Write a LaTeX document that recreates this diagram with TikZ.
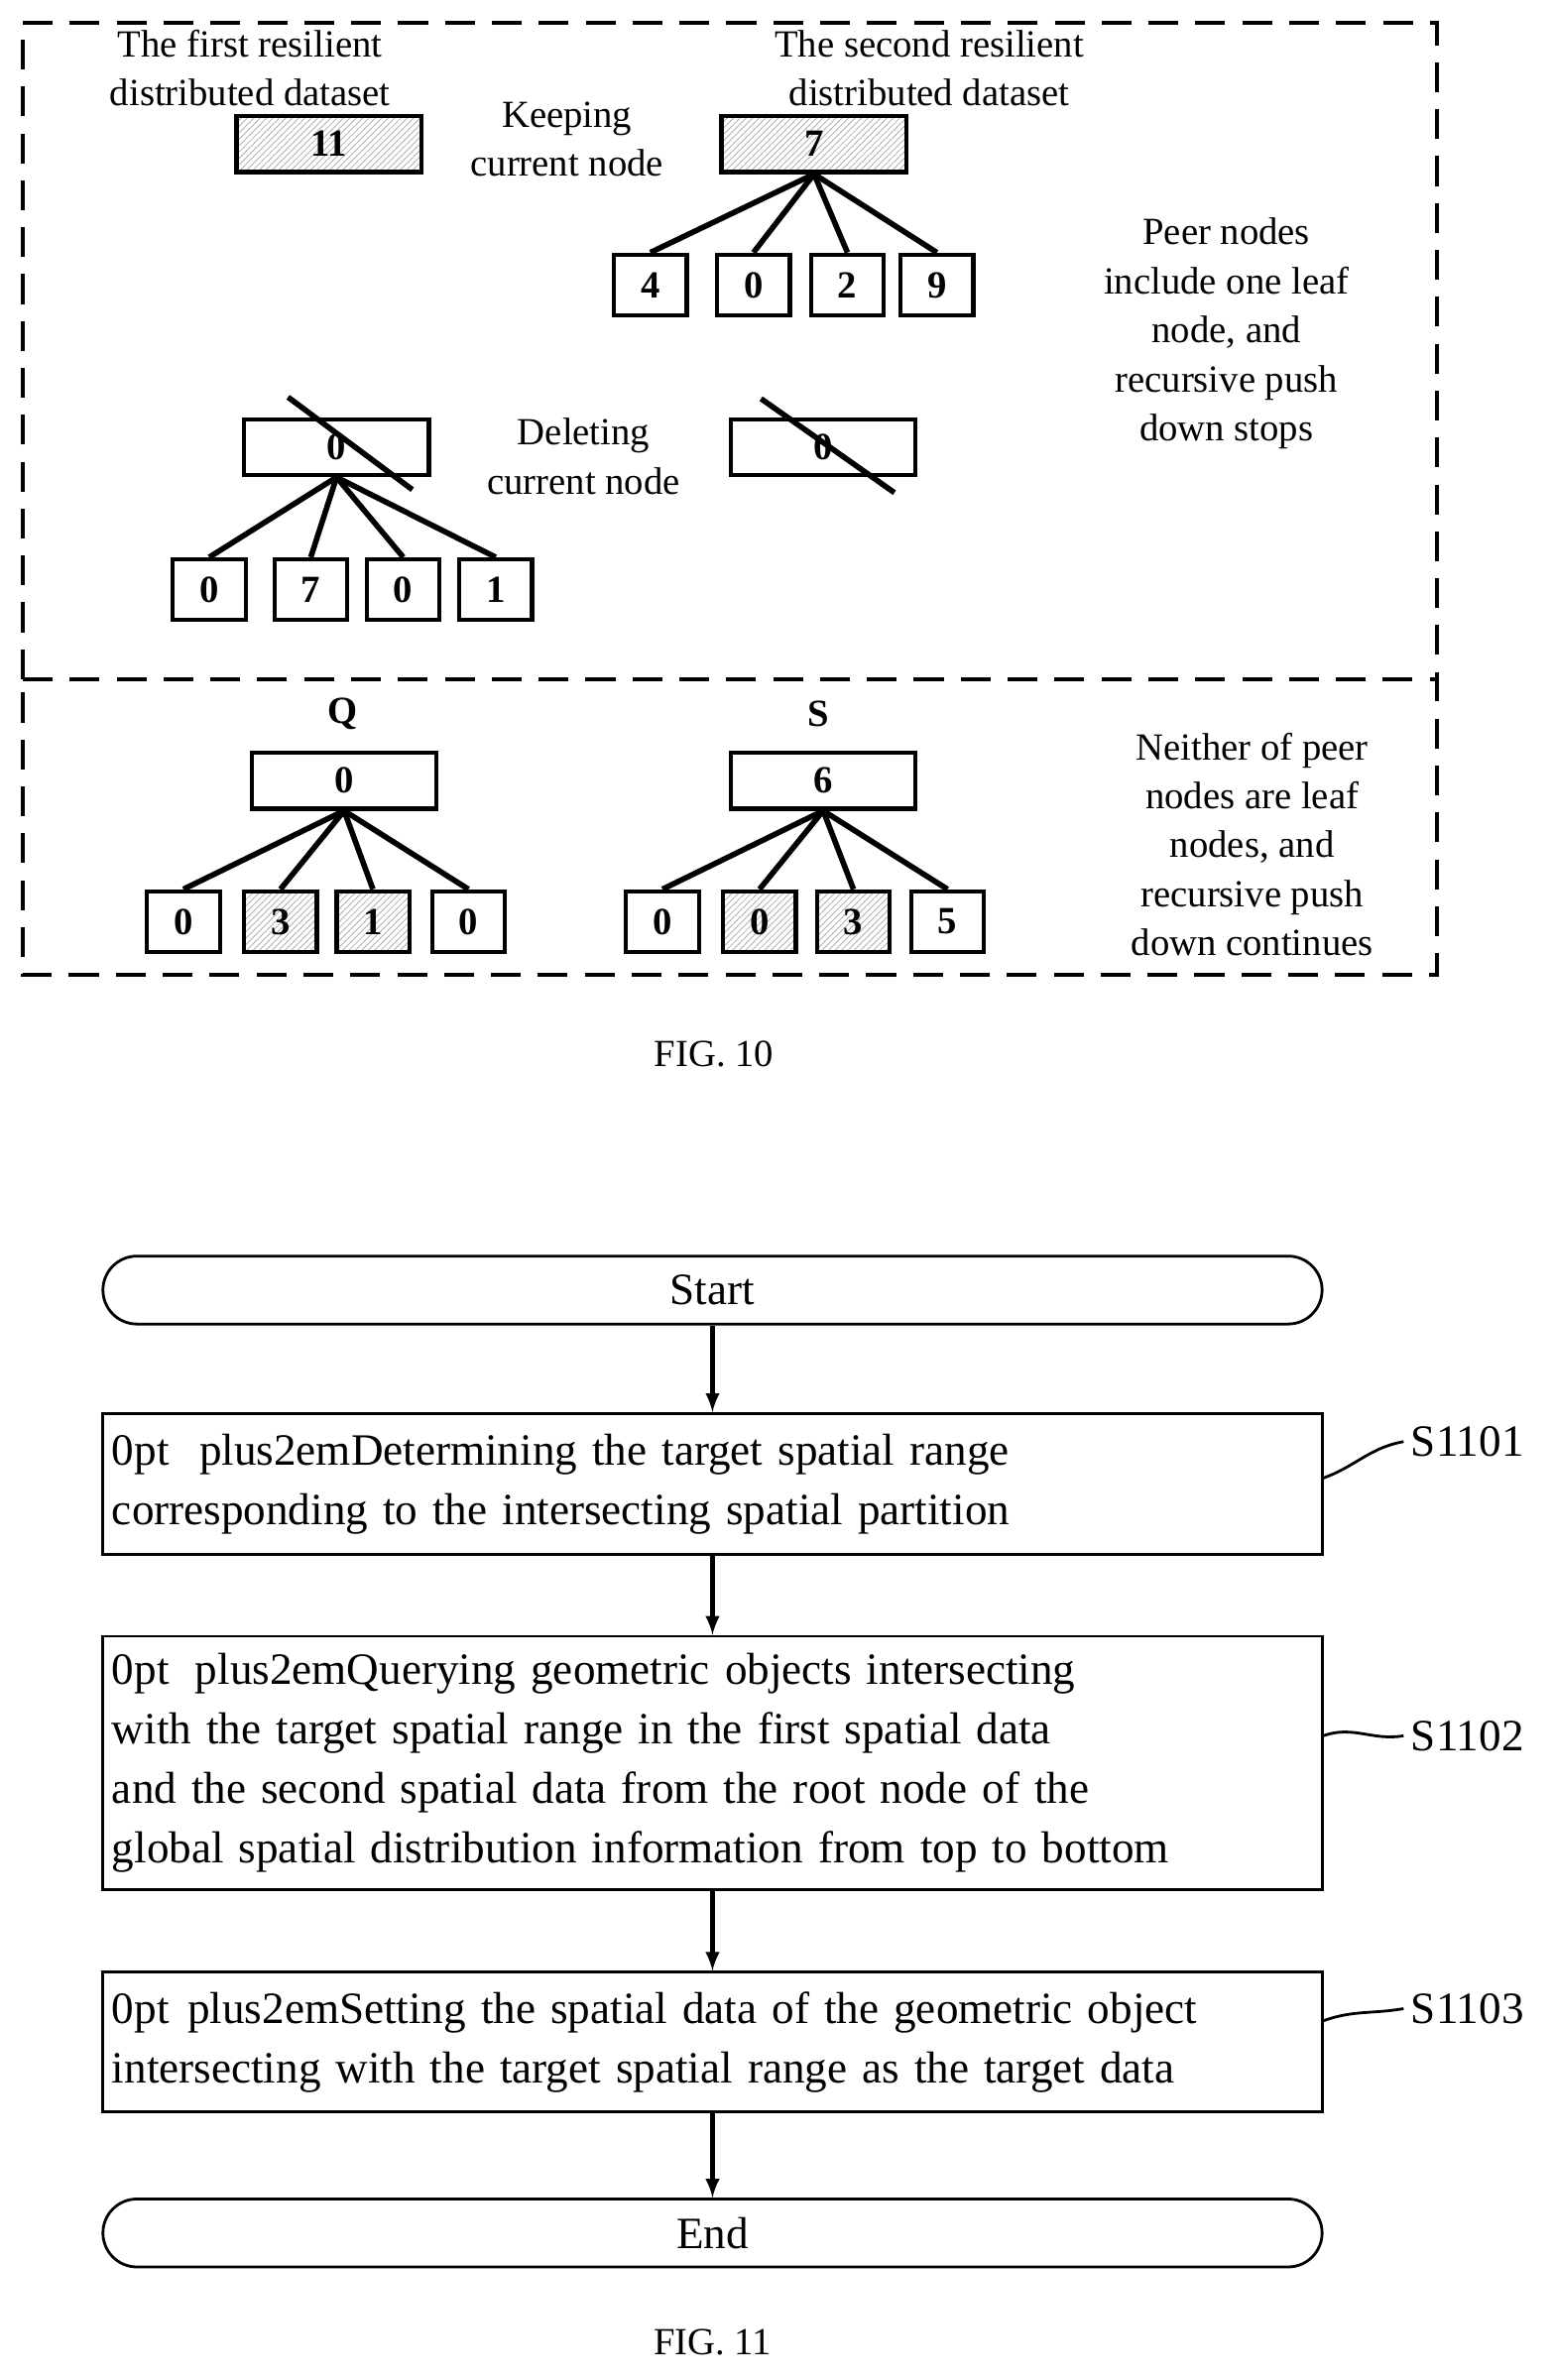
\documentclass[tikz,border=0pt]{standalone}
\usepackage{fontspec}
\setmainfont{Liberation Serif}
\usetikzlibrary{patterns, positioning}
\tikzset{
x=0.025cm, y=-0.025cm,
every node/.style={font=\fontsize{18}{23}\selectfont, align=center},
parent/.style={draw, line width=2pt, minimum width=3.05cm, minimum height=0.92cm, inner sep=0pt, font=\fontsize{18}{23}\selectfont\bfseries}, % wide node
leaf/.style={draw, line width=2pt, minimum width=1.2cm, minimum height=1.0cm, inner sep=0pt, font=\fontsize{18}{23}\selectfont\bfseries}, % small node
hatched/.style={pattern=north east lines, pattern color=gray!60},
frame/.style={line width=2pt, dash pattern=on 14pt off 8pt},
stepbox/.style={draw, line width=1.3pt, minimum width=20.1cm, font=\fontsize{21}{28}\selectfont\hyphenpenalty=10000, text width=19.8cm},
term/.style={draw, line width=1.3pt, rounded corners=0.56cm, minimum width=20.1cm, minimum height=1.12cm, font=\fontsize{21}{28}\selectfont},
link/.style={line width=2.6pt},
}
\begin{document}
\begin{tikzpicture}
\useasboundingbox (0,0) rectangle (1024,1570);
% FIG. 10
\draw[frame] (15,448) -- (15,15) -- (948,15) -- (948,448);
\draw[frame] (15,448) -- (948,448) -- (948,643) -- (15,643) -- cycle;

\node at (165,45) {The first resilient\\distributed dataset};
\node[parent, hatched] (first) at (217,95) {11};
\node at (374,92) {Keeping\\current node};
\node at (613,45) {The second resilient\\distributed dataset};
\node[parent, hatched] (second) at (537,95) {7};
\node[leaf] (s1) at (429,188) {4};
\node[leaf] (s2) at (497,188) {0};
\node[leaf] (s3) at (559,188) {2};
\node[leaf] (s4) at (618,188) {9};
\foreach \c in {s1,s2,s3,s4} \draw[link] (second.south) -- (\c.north);
\node at (809,220) {Peer nodes\\include one leaf\\node, and\\recursive push\\down stops};

\node[parent] (del1) at (222,295) {0};
\node[leaf] (d1) at (138,389) {0};
\node[leaf] (d2) at (205,389) {7};
\node[leaf] (d3) at (266,389) {0};
\node[leaf] (d4) at (327,389) {1};
\foreach \c in {d1,d2,d3,d4} \draw[link] (del1.south) -- (\c.north);
\coordinate (x1a) at (190,262);
\coordinate (x1b) at (272,323);
\draw[link] (x1a) -- (x1b);
\node at (385,301) {Deleting\\current node};
\node[parent] (del2) at (543,295) {0};
\coordinate (x2a) at (502,263);
\coordinate (x2b) at (590,325);
\draw[link] (x2a) -- (x2b);

\node[font=\fontsize{18}{23}\selectfont\bfseries] at (226,471) {Q};
\node[parent] (q) at (227,515) {0};
\node[leaf] (q1) at (121,608) {0};
\node[leaf, hatched] (q2) at (185,608) {3};
\node[leaf, hatched] (q3) at (246,608) {1};
\node[leaf] (q4) at (309,608) {0};
\foreach \c in {q1,q2,q3,q4} \draw[link] (q.south) -- (\c.north);
\node[font=\fontsize{18}{23}\selectfont\bfseries] at (540,471) {S};
\node[parent] (s) at (543,515) {6};
\node[leaf] (t1) at (437,608) {0};
\node[leaf, hatched] (t2) at (501,608) {0};
\node[leaf, hatched] (t3) at (563,608) {3};
\node[leaf] (t4) at (625,608) {5};
\foreach \c in {t1,t2,t3,t4} \draw[link] (s.south) -- (\c.north);
\node at (826,557) {Neither of peer\\nodes are leaf\\nodes, and\\recursive push\\down continues};
\node at (471,695) {FIG. 10};

% FIG. 11
\node[term] (start) at (470,851) {Start};
\node[stepbox, minimum height=2.33cm] (a) at (470,979) {Determining the target spatial range corresponding to the intersecting spatial partition};
\node[stepbox, minimum height=4.18cm] (b) at (470,1163) {Querying geometric objects intersecting with the target spatial range in the first spatial data and the second spatial data from the root node of the global spatial distribution information from top to bottom};
\node[stepbox, minimum height=2.3cm] (c) at (470,1347) {Setting the spatial data of the geometric object intersecting with the target spatial range as the target data};
\node[term] (end) at (470,1473) {End};
\foreach \u/\v in {start/a, a/b, b/c, c/end} \draw[-latex, line width=2pt] (\u) -- (\v);
\node[font=\fontsize{21}{25}\selectfont] (l1) at (968,951) {S1101};
\node[font=\fontsize{21}{25}\selectfont] (l2) at (968,1145) {S1102};
\node[font=\fontsize{21}{25}\selectfont] (l3) at (968,1325) {S1103};
\draw[line width=1.3pt] (a.east) ++(0,-4) to[out=20,in=190] (l1.west);
\draw[line width=1.3pt] (b.east) ++(0,-18) to[out=20,in=190] (l2.west);
\draw[line width=1.3pt] (c.east) ++(0,-14) to[out=20,in=190] (l3.west);
\node at (470,1545) {FIG. 11};
\end{tikzpicture}
\end{document}
